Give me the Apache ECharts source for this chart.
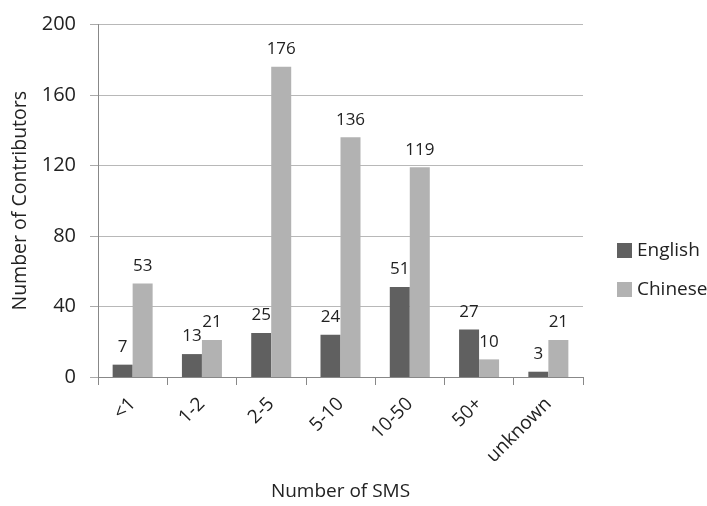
<!DOCTYPE html>
<html><head><meta charset="utf-8">
<script src="https://cdn.jsdelivr.net/npm/echarts@6/dist/echarts.min.js"></script>
<style>html,body{margin:0;padding:0;background:#fff}#c{width:707px;height:506px}</style>
</head><body><div id="c"></div>
<script>
const categories = ['<1', '1-2', '2-5', '5-10', '10-50', '50+', 'unknown'];
const english = [7, 13, 25, 24, 51, 27, 3];
const chinese = [53, 21, 176, 136, 119, 10, 21];
const seriesNames = ['English', 'Chinese'];
const yTicks = [0, 40, 80, 120, 160, 200];

const FONT = 'Open Sans';
const chart = echarts.init(document.getElementById('c'), null, {renderer: 'canvas'});
chart.setOption({
  animation: false,
  textStyle: {fontFamily: FONT},
  grid: {left: 98, right: 124, top: 24.5, bottom: 128},
  legend: {
    orient: 'vertical', left: 612, top: 236, itemWidth: 15, itemHeight: 15, itemGap: 20,
    icon: 'rect',
    textStyle: {fontFamily: FONT, fontSize: 19, color: '#222'},
    data: seriesNames
  },
  xAxis: {
    type: 'category', data: categories,
    name: 'Number of SMS', nameLocation: 'middle', nameGap: 105,
    nameTextStyle: {fontFamily: FONT, fontSize: 19, color: '#222'},
    axisLine: {lineStyle: {color: '#888', width: 1}},
    axisTick: {show: true, length: 8, lineStyle: {color: '#888'}},
    axisLabel: {rotate: 45, margin: 24, fontFamily: FONT, fontSize: 19, color: '#222'}
  },
  yAxis: {
    type: 'value', min: yTicks[0], max: yTicks[yTicks.length - 1], interval: 40,
    name: 'Number of Contributors', nameLocation: 'middle', nameGap: 67,
    nameTextStyle: {fontFamily: FONT, fontSize: 19.5, color: '#222'},
    axisLine: {show: true, lineStyle: {color: '#888'}},
    axisTick: {show: true, inside: false, length: 8, lineStyle: {color: '#aaa'}},
    splitLine: {lineStyle: {color: '#b8b8b8'}},
    axisLabel: {margin: 22, fontFamily: FONT, fontSize: 20, color: '#222'}
  },
  series: [
    {name: seriesNames[0], type: 'bar', data: english, barWidth: 20, barGap: '0%',
     itemStyle: {color: '#606060'},
     label: {show: true, position: 'top', distance: 9, fontFamily: FONT, fontSize: 17, color: '#222'}},
    {name: seriesNames[1], type: 'bar', data: chinese, barWidth: 20,
     itemStyle: {color: '#b2b2b2'},
     label: {show: true, position: 'top', distance: 9, fontFamily: FONT, fontSize: 17, color: '#222'}}
  ]
});
</script></body></html>
